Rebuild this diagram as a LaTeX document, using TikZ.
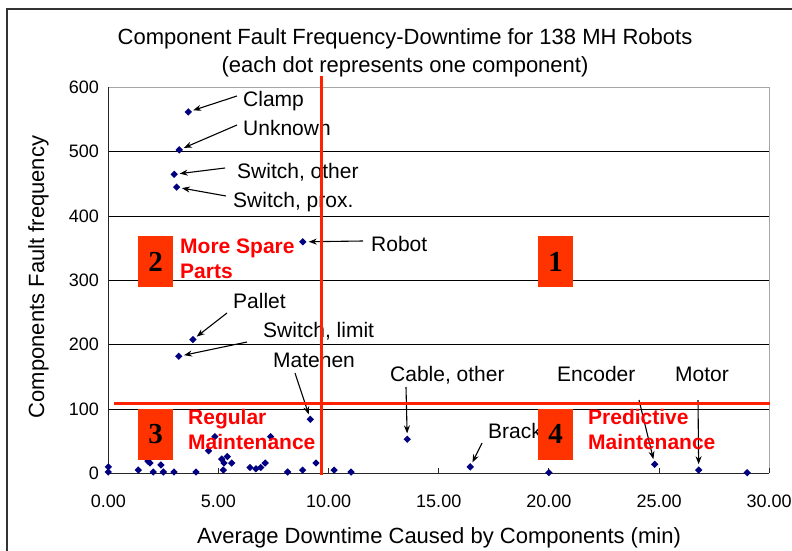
\documentclass[tikz,border=0pt]{standalone}
\usepackage{fontspec}
\setmainfont{Liberation Sans}
\newfontfamily\boxfont{Liberation Serif}
\usetikzlibrary{arrows.meta,shapes.geometric}
\definecolor{boxred}{HTML}{FF3300}
\definecolor{linered}{HTML}{FF2200}
\definecolor{dotblue}{HTML}{000080}
\begin{document}
\begin{tikzpicture}[x=1pt,y=-1pt,
  dot/.style={diamond, fill=dotblue, inner sep=0pt, minimum width=7.5pt, minimum height=7.5pt},
  lbl/.style={font=\fontsize{21}{25}\selectfont, anchor=base west, inner sep=0pt},
  ptr/.style={-{Stealth[length=8pt,width=6pt]}, line width=1.1pt, shorten >=2pt},
  quad/.style={fill=boxred, minimum width=35pt, minimum height=51pt, inner sep=0pt, font=\boxfont\bfseries\fontsize{29}{29}\selectfont},
  strat/.style={text=red, font=\bfseries\fontsize{21}{25}\selectfont, align=left, anchor=west, inner sep=0pt},
  grid/.style={line width=1pt, black},
  tickl/.style={font=\fontsize{18}{18}\selectfont, inner sep=0pt},
  redline/.style={line width=2.6pt, linered}
]
\useasboundingbox (0,0) rectangle (792,551);
\fill[white] (0,0) rectangle (792,551);
% outer frame
\draw[line width=1.3pt, black!80] (7,551) -- (7,9) -- (792,9);
% title
\node[font=\fontsize{22}{26}\selectfont, anchor=base, inner sep=0pt] (title1) at (405,45) {Component Fault Frequency-Downtime for 138 MH Robots};
\node[font=\fontsize{22}{26}\selectfont, anchor=base, inner sep=0pt] (title2) at (405,73) {(each dot represents one component)};
% axis titles
\node[font=\fontsize{22}{26}\selectfont, rotate=90, anchor=base, inner sep=0pt] (ytitle) at (44,277) {Components Fault frequency};
\node[font=\fontsize{22}{26}\selectfont, anchor=base, inner sep=0pt] (xtitle) at (439,543) {Average Downtime Caused by Components (min)};

\begin{scope}[shift={(108.3,473.3)}, xscale=22.03, yscale=-0.643]
  % grid
  \foreach \g in {100,200,300,400,500} \draw[grid] (0,\g) -- (30,\g);
  \draw[line width=1.2pt, black!35] (0,600) -- (30,600) -- (30,0);
  \draw[line width=1.2pt, black!85] (0,600) -- (0,0) -- (30,0);
  \foreach \t in {5,10,...,30} \draw[line width=1pt, black!85] (\t,0) -- (\t,8);
  % tick labels
  \foreach \g in {0,100,...,600} \node[tickl, anchor=east] at (-0.42,\g) {\g};
  \foreach \t/\l in {0/0.00,5/5.00,10/10.00,15/15.00,20/20.00,25/25.00,30/30.00}
    \node[tickl] at (\t,-44) {\l};
  % labelled dots
  \node[dot] (p-clamp) at (3.63,562) {};
  \node[dot] (p-unknown) at (3.22,503) {};
  \node[dot] (p-swother) at (2.99,465) {};
  \node[dot] (p-swprox) at (3.10,445) {};
  \node[dot] (p-robot) at (8.83,360) {};
  \node[dot] (p-pallet) at (3.84,208) {};
  \node[dot] (p-swlimit) at (3.20,182) {};
  \node[dot] (p-matehen) at (9.17,84) {};
  \node[dot] (p-cable) at (13.57,53) {};
  \node[dot] (p-brack) at (16.43,10) {};
  \node[dot] (p-twenty) at (20.0,1) {};
  \node[dot] (p-encoder) at (24.8,14) {};
  \node[dot] (p-motor) at (26.8,5) {};
  \node[dot] (p-last) at (29.0,1) {};
  % other dots
  \foreach \i/\px/\py in {a/0/10, b/0/2, c/1.36/5, d/1.89/16, e/1.8/19, f/2.04/2, g/2.39/13, h/2.5/2, i/2.98/2, j/3.98/2, k/4.55/35, l/4.84/57, m/5.15/22, n/5.25/16, o/5.22/5, q/5.40/26, r/5.60/16, s/6.43/9, t/6.70/7, u/6.92/9, v/7.12/16, w/7.37/57, x/8.14/2, y/8.82/5, z/9.43/16, aa/10.25/5, ab/11.02/2}
    \node[dot] (d-\i) at (\px,\py) {};
\end{scope}

% labels
\node[lbl] (l-clamp) at (243,106) {Clamp};
\node[lbl] (l-unknown) at (243,135) {Unknown};
\node[lbl] (l-swother) at (237,178) {Switch, other};
\node[lbl] (l-swprox) at (233,207) {Switch, prox.};
\node[lbl] (l-robot) at (371,251) {Robot};
\node[lbl] (l-pallet) at (233,308) {Pallet};
\node[lbl] (l-swlimit) at (263,337) {Switch, limit};
\node[lbl] (l-matehen) at (273,367) {Matehen};
\node[lbl] (l-cable) at (390,381) {Cable, other};
\node[lbl] (l-brack) at (488,438) {Brack};
\node[lbl] (l-encoder) at (557,381) {Encoder};
\node[lbl] (l-motor) at (675,381) {Motor};

% arrow tails
\coordinate (t-clamp) at (237,96);
\coordinate (t-unknown) at (237,125);
\coordinate (t-swother) at (225,168);
\coordinate (t-swprox) at (226,196);
\coordinate (t-robot) at (363,241);
\coordinate (t-pallet) at (227,313);
\coordinate (t-swlimit) at (247,342);
\coordinate (t-matehen) at (295,373);
\coordinate (t-cable) at (406,387);
\coordinate (t-brack) at (482,443);
\coordinate (t-encoder) at (639,400);
\coordinate (t-motor) at (698,400);
\foreach \n in {clamp,unknown,swother,swprox,robot,pallet,swlimit,matehen,cable,brack,encoder,motor}
  \draw[ptr] (t-\n) -- (p-\n);

% red quadrant lines
\draw[redline] (321.7,76) -- (321.7,475);
\draw[redline] (114,403.7) -- (770,403.7);

% quadrant boxes
\node[quad] (q2) at (155.5,261.5) {2};
\node[quad] (q1) at (555.5,261.5) {1};
\node[quad] (q3) at (155.5,434) {3};
\node[quad] (q4) at (555.5,434) {4};

\node[strat] (s2) at (180,259) {More Spare\\Parts};
\node[strat] (s3) at (188,429.5) {Regular\\Maintenance};
\node[strat] (s4) at (588,429.5) {Predictive\\Maintenance};
\end{tikzpicture}
\end{document}
